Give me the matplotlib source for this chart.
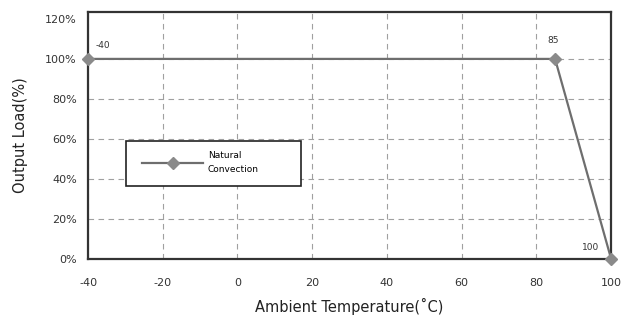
import matplotlib
matplotlib.use("Agg")
import matplotlib.pyplot as plt
import matplotlib.patches as mpatches

# derating curve data
temps = [-40, 85, 100]
loads = [100, 100, 0]
point_labels = ["-40", "85", "100"]
xticks = [-40, -20, 0, 20, 40, 60, 80, 100]
yticks = [0, 20, 40, 60, 80, 100, 120]

plt.rcParams['font.family'] = ['DejaVu Sans']
plt.rcParams['axes.unicode_minus'] = False

fig = plt.figure(figsize=(6.31, 3.22), dpi=100)
ax = fig.add_axes([0.1395, 0.196, 0.829, 0.767])

ax.plot(temps, loads, color='#6e6e6e', lw=1.6, marker='D', ms=6,
        markerfacecolor='#8a8a8a', markeredgecolor='#8a8a8a',
        label='Natural\nConvection', zorder=3, clip_on=False)

# point labels (offsets in points, text centred)
offsets = [(11, 9.5), (-1.5, 13), (-14.5, 8)]
for x, y, s, off in zip(temps, loads, point_labels, offsets):
    ax.annotate(s, (x, y), xytext=off, textcoords='offset points',
                fontsize=6.5, color='#333333', ha='center', va='center')

ax.set_xlim(-40, 100)
ax.set_ylim(0, 123.5)
ax.set_xticks(xticks)
ax.set_yticks(yticks)
ax.set_yticklabels([f"{v}%" for v in yticks])
ax.tick_params(axis='x', length=0, labelsize=8, pad=14, colors='#333333')
ax.tick_params(axis='y', length=0, labelsize=8, pad=8, colors='#333333')

ax.grid(True, linestyle=(0, (5, 4)), color='#a0a0a0', lw=0.8)
ax.get_ygridlines()[-1].set_visible(False)
for s in ax.spines.values():
    s.set_linewidth(1.6)
    s.set_color('#333333')

ax.set_xlabel("Ambient Temperature(˚C)", fontsize=10.5, labelpad=7, color='#222222')
ax.set_ylabel("Output Load(%)", fontsize=10.5, labelpad=12, color='#222222')

# legend box drawn by hand, legend itself without frame
box = mpatches.Rectangle((0.0727, 0.296), 0.334, 0.182, transform=ax.transAxes,
                         facecolor='white', edgecolor='#222222', lw=1.2, zorder=4)
ax.add_patch(box)
leg = ax.legend(loc='center left', bbox_to_anchor=(0.103, 0.389), fontsize=6.5,
                frameon=False, handlelength=6.8, borderpad=0, handletextpad=0.5,
                borderaxespad=0)
leg.get_texts()[0].set_linespacing(1.7)
leg.set_zorder(5)

fig.savefig("out.png", dpi=100)
